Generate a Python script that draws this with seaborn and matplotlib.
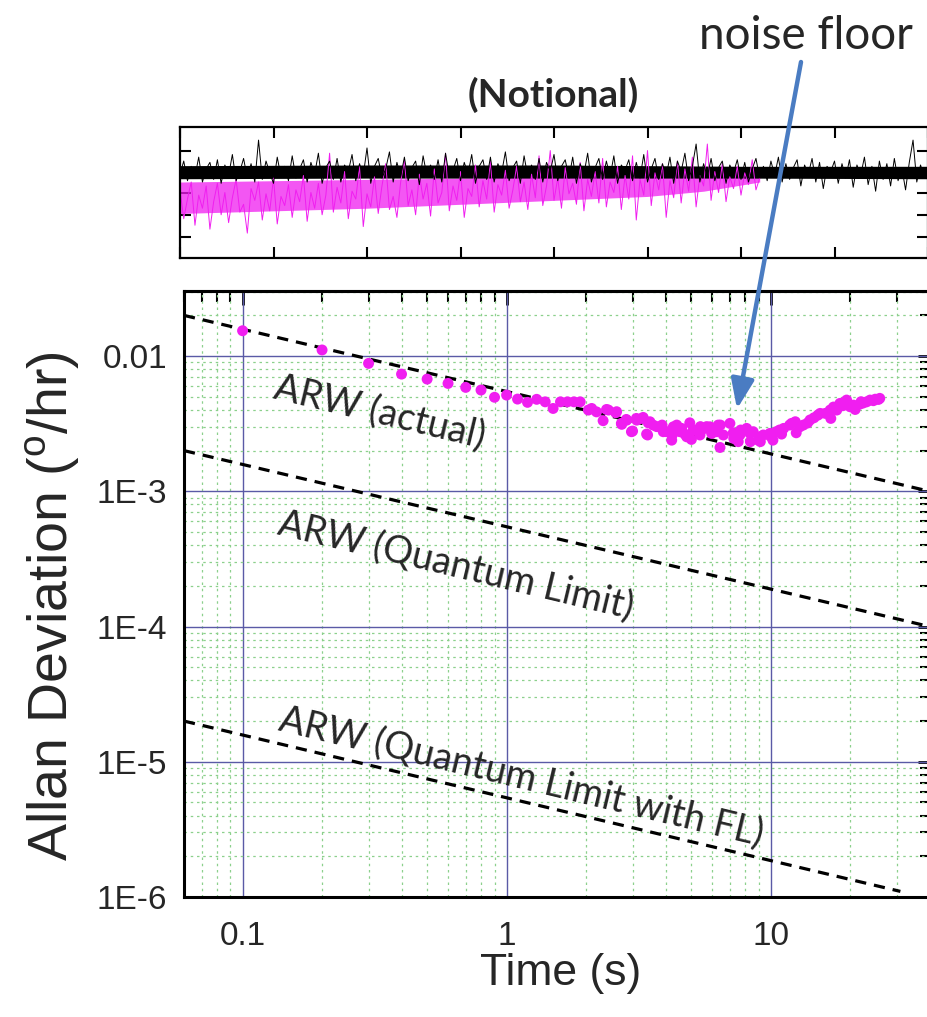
import numpy as np
import pandas as pd
import matplotlib
matplotlib.use("Agg")
import matplotlib.pyplot as plt
import seaborn as sns
from matplotlib.ticker import LogLocator, NullFormatter, FixedLocator, FixedFormatter

# ---------------- data ----------------
adev_tau = [0.1, 0.2, 0.3, 0.4, 0.5, 0.6, 0.7, 0.8, 0.9, 1.0, 1.1, 1.2, 1.3, 1.4, 1.5, 1.6, 1.7, 1.8, 1.9,
            2.04, 2.10, 2.19, 2.32, 2.39, 2.43, 2.59, 2.61, 2.72, 2.73,
            2.84, 2.85, 2.97, 3.00, 3.10, 3.11, 3.25, 3.29, 3.39, 3.42,
            3.44, 3.49, 3.59, 3.70, 3.86, 3.88, 3.92, 4.04, 4.22, 4.24,
            4.28, 4.41, 4.53, 4.60, 4.73, 4.81, 4.94, 5.01, 5.09, 5.24,
            5.40, 5.42, 5.64, 5.72, 5.89, 5.98, 6.24, 6.33, 6.43, 6.45,
            6.62, 7.01, 7.22, 7.25, 7.54, 7.65, 7.68, 7.70, 8.11, 8.35,
            8.38, 8.59, 8.98, 9.10, 9.14, 9.38, 9.93, 10.0, 10.2, 10.5,
            10.8, 11.0, 11.2, 11.8, 12.0, 12.4, 12.5, 12.9, 13.3, 13.8,
            14.1, 14.6, 15.1, 15.4, 16.1, 16.8, 16.9, 17.3, 17.8, 18.3,
            18.8, 19.1, 19.4, 20.0, 20.6, 20.9, 21.8, 22.0, 22.4, 23.1,
            23.8, 24.5, 24.9, 25.6, 25.9]
adev_val = [0.0154, 0.0111, 0.00883, 0.00736, 0.00676, 0.00628, 0.00587, 0.00561, 0.00496, 0.00515,
            0.00481, 0.00455, 0.00479, 0.00459, 0.0041, 0.00459, 0.00459, 0.00459, 0.00459,
            0.00399, 0.00410, 0.00387, 0.00333, 0.00403, 0.00399, 0.00381, 0.00388, 0.00318, 0.00313,
            0.00340, 0.00336, 0.00276, 0.00279, 0.00346, 0.00336, 0.00346, 0.00352, 0.00265, 0.00261,
            0.00321, 0.00327, 0.00309, 0.00301, 0.00300, 0.00309, 0.00276, 0.00276, 0.00239, 0.00261,
            0.00300, 0.00309, 0.00276, 0.00292, 0.00265, 0.00253, 0.00321, 0.00242, 0.00284, 0.00284,
            0.00261, 0.00301, 0.00292, 0.00301, 0.00300, 0.00268, 0.00276, 0.00309, 0.00211, 0.00309,
            0.00261, 0.00318, 0.00271, 0.00246, 0.00233, 0.00261, 0.00276, 0.00284, 0.00292, 0.00268,
            0.00233, 0.00276, 0.00239, 0.00253, 0.00233, 0.00261, 0.00268, 0.00255, 0.00239, 0.00276,
            0.00284, 0.00265, 0.00292, 0.00309, 0.00318, 0.00327, 0.00271, 0.00300, 0.00309, 0.00320,
            0.00337, 0.00350, 0.00366, 0.00377, 0.00377, 0.00399, 0.00346, 0.00420, 0.00399, 0.00447,
            0.00430, 0.00459, 0.00473, 0.00422, 0.00434, 0.00403, 0.00442, 0.00460, 0.00450, 0.00459,
            0.00473, 0.00468, 0.00480, 0.00478, 0.00487]

arw_tau = [0.06, 40]
arw_actual = [0.02, 0.001]
arw_quantum = [0.002, 0.0001]
arw_fl_tau = [0.06, 31]
arw_fl = [2e-5, 1.1e-6]

arw_labels = ["ARW (actual)", "ARW (Quantum Limit)", "ARW (Quantum Limit with FL)"]

xtick_vals = [0.1, 1, 10]
xtick_labels = ["0.1", "1", "10"]
ytick_vals = [1e-6, 1e-5, 1e-4, 1e-3, 1e-2]
ytick_labels = ["1E-6", "1E-5", "1E-4", "1E-3", "0.01"]

# notional raw traces (top panel), one sample every 0.04 (arb. time units)
trace_dt = 0.04
black_trace = [
    0.64, 0.74, 0.59, 0.70, 0.62, 0.77, 0.58, 0.68, 0.73, 0.60, 0.75, 0.57, 0.71, 0.63, 0.79, 0.59, 0.66, 0.76, 0.61, 0.72,
    0.58, 0.90, 0.60, 0.74, 0.65, 0.57, 0.77, 0.62, 0.70, 0.59, 0.78, 0.61, 0.68, 0.75, 0.58, 0.73, 0.64, 0.80, 0.57, 0.69,
    0.74, 0.60, 0.76, 0.58, 0.71, 0.66, 0.79, 0.59, 0.72, 0.63, 0.84, 0.57, 0.70, 0.76, 0.61, 0.68, 0.81, 0.58, 0.73, 0.62,
    0.77, 0.59, 0.69, 0.74, 0.56, 0.78, 0.63, 0.71, 0.60, 0.75, 0.58, 0.80, 0.62, 0.67, 0.76, 0.59, 0.73, 0.64, 0.79, 0.57,
    0.70, 0.75, 0.60, 0.77, 0.58, 0.72, 0.65, 0.81, 0.59, 0.69, 0.74, 0.57, 0.78, 0.62, 0.71, 0.60, 0.76, 0.58, 0.73, 0.66,
    0.79, 0.59, 0.70, 0.75, 0.61, 0.77, 0.57, 0.72, 0.64, 0.80, 0.58, 0.69, 0.76, 0.60, 0.74, 0.62, 0.78, 0.57, 0.71, 0.67,
    0.75, 0.59, 0.73, 0.61, 0.79, 0.58, 0.68, 0.76, 0.60, 0.72, 0.63, 0.77, 0.57, 0.74, 0.66, 0.80, 0.59, 0.70, 0.87, 0.58,
    0.72, 0.62, 0.76, 0.59, 0.69, 0.74, 0.57, 0.71, 0.65, 0.75, 0.60, 0.73, 0.58, 0.68, 0.76, 0.61, 0.70, 0.59, 0.74, 0.63,
    0.77, 0.58, 0.72, 0.60, 0.69, 0.75, 0.55, 0.71, 0.64, 0.76, 0.58, 0.73, 0.53, 0.70, 0.66, 0.74, 0.57, 0.72, 0.61, 0.75,
    0.54, 0.71, 0.63, 0.77, 0.56, 0.70, 0.51, 0.74, 0.60, 0.72, 0.55, 0.76, 0.59, 0.69, 0.52, 0.73, 0.90, 0.58, 0.71, 0.62,
    0.68]
magenta_trace = [
    0.52, 0.30, 0.45, 0.58, 0.25, 0.48, 0.38, 0.55, 0.22, 0.43, 0.57, 0.33, 0.50, 0.27, 0.46, 0.60, 0.35, 0.41, 0.19, 0.53,
    0.44, 0.58, 0.29, 0.49, 0.36, 0.61, 0.26, 0.47, 0.40, 0.56, 0.31, 0.52, 0.43, 0.63, 0.28, 0.50, 0.38, 0.57, 0.33, 0.48,
    0.80, 0.35, 0.54, 0.42, 0.66, 0.30, 0.51, 0.45, 0.70, 0.24, 0.49, 0.39, 0.62, 0.34, 0.55, 0.72, 0.37, 0.47, 0.31, 0.58,
    0.75, 0.40, 0.52, 0.33, 0.64, 0.45, 0.57, 0.32, 0.68, 0.42, 0.50, 0.80, 0.36, 0.55, 0.44, 0.66, 0.31, 0.53, 0.47, 0.71,
    0.39, 0.59, 0.45, 0.74, 0.35, 0.56, 0.48, 0.67, 0.38, 0.52, 0.70, 0.43, 0.58, 0.37, 0.64, 0.46, 0.78, 0.40, 0.55, 0.82,
    0.44, 0.61, 0.38, 0.69, 0.49, 0.57, 0.41, 0.73, 0.36, 0.60, 0.47, 0.66, 0.42, 0.76, 0.39, 0.58, 0.50, 0.70, 0.37, 0.63,
    0.45, 0.78, 0.29, 0.60, 0.48, 0.82, 0.40, 0.65, 0.52, 0.72, 0.31, 0.59, 0.46, 0.74, 0.42, 0.68, 0.51, 0.77, 0.39, 0.63,
    0.55, 0.87, 0.44, 0.66, 0.50, 0.72, 0.43, 0.62, 0.53, 0.70, 0.48, 0.65, 0.56, 0.75, 0.52, 0.61]
black_core_t = [0, 2, 4, 6, 8]
black_core_lo = [0.605, 0.61, 0.61, 0.61, 0.605]
black_core_hi = [0.705, 0.71, 0.71, 0.70, 0.70]
magenta_core_t = [0, 1, 2, 3, 4, 5, 5.6, 6.2]
magenta_core_lo = [0.34, 0.36, 0.38, 0.41, 0.44, 0.47, 0.51, 0.58]
magenta_core_hi = [0.58, 0.59, 0.60, 0.61, 0.62, 0.64, 0.65, 0.63]

# ---------------- style ----------------
sns.set_theme(style="white")
plt.rcParams["font.family"] = ["Liberation Sans", "DejaVu Sans"]
plt.rcParams["mathtext.fontset"] = "custom"
plt.rcParams["mathtext.rm"] = "Liberation Sans"

MAG = "#f01ef0"
fig = plt.figure(figsize=(9.27, 10.17), dpi=100)
W, H = 927.0, 1017.0

# ---- top panel ----
ax_top = fig.add_axes([180 / W, 1 - 258 / H, 748 / W, 131 / H])
ax_top.fill_between(magenta_core_t, magenta_core_lo, magenta_core_hi, color=MAG, alpha=0.75, lw=0)
mag_df = pd.DataFrame({"t": np.arange(len(magenta_trace)) * trace_dt, "v": magenta_trace})
sns.lineplot(data=mag_df, x="t", y="v", color=MAG, lw=0.7, ax=ax_top, estimator=None, sort=False)
ax_top.fill_between(black_core_t, black_core_lo, black_core_hi, color="black", lw=0)
blk_df = pd.DataFrame({"t": np.arange(len(black_trace)) * trace_dt, "v": black_trace})
sns.lineplot(data=blk_df, x="t", y="v", color="black", lw=0.7, ax=ax_top, estimator=None, sort=False)
ax_top.set_xlim(0, 8)
ax_top.set_ylim(0, 1)
ax_top.set_xticks(range(0, 9))
ax_top.set_yticks([0.16, 0.33, 0.50, 0.82])
ax_top.tick_params(which="both", direction="in", top=True, bottom=True, left=True, right=True,
                   labelbottom=False, labelleft=False, length=8, width=1.5, color="black")
ax_top.set_xlabel("")
ax_top.set_ylabel("")
for s in ax_top.spines.values():
    s.set_color("black")
    s.set_linewidth(1.6)

# ---- main panel ----
ax = fig.add_axes([184 / W, 1 - 897 / H, 745.6 / W, 606 / H])
ax.set_xscale("log")
ax.set_yscale("log")
ax.set_xlim(0.06, 40)
ax.set_ylim(1e-6, 0.0303)
ax.set_axisbelow(True)

ax.grid(which="major", color="#5a5aa6", lw=1.0)
ax.grid(which="minor", color="#8cd08c", lw=0.9, ls=(0, (2, 3)))

line_df = pd.DataFrame({"tau": arw_tau + arw_tau + arw_fl_tau,
                        "val": arw_actual + arw_quantum + arw_fl,
                        "kind": ["a", "a", "q", "q", "f", "f"]})
for k in ["a", "q", "f"]:
    sub = line_df[line_df["kind"] == k]
    sns.lineplot(data=sub, x="tau", y="val", color="black", lw=2.3, ax=ax,
                 estimator=None, sort=False, zorder=4).lines[-1].set_dashes((3.5, 2.5))

sns.scatterplot(x=adev_tau, y=adev_val, color=MAG, s=62, edgecolor="none", ax=ax, zorder=5)

ax.xaxis.set_major_locator(FixedLocator(xtick_vals))
ax.xaxis.set_major_formatter(FixedFormatter(xtick_labels))
ax.xaxis.set_minor_locator(LogLocator(base=10, subs=np.arange(2, 10)))
ax.xaxis.set_minor_formatter(NullFormatter())
ax.yaxis.set_major_locator(FixedLocator(ytick_vals))
ax.yaxis.set_major_formatter(FixedFormatter(ytick_labels))
ax.yaxis.set_minor_locator(LogLocator(base=10, subs=np.arange(2, 10), numticks=20))
ax.yaxis.set_minor_formatter(NullFormatter())

ax.tick_params(axis="x", which="major", direction="out", length=10, width=2, pad=7,
               labelsize=24, color="black")
ax.tick_params(axis="x", which="minor", direction="out", length=7, width=1.5, color="black")
ax.tick_params(axis="y", which="major", direction="out", length=9, width=2, pad=3,
               labelsize=24, color="black")
ax.tick_params(axis="y", which="minor", direction="in", length=8, width=1.5, color="black")
for s in ax.spines.values():
    s.set_color("black")
    s.set_linewidth(2.2)

sec_x = ax.secondary_xaxis("top")
sec_x.xaxis.set_major_locator(FixedLocator(xtick_vals))
sec_x.xaxis.set_minor_locator(LogLocator(base=10, subs=np.arange(2, 10)))
sec_x.xaxis.set_major_formatter(NullFormatter())
sec_x.xaxis.set_minor_formatter(NullFormatter())
sec_x.tick_params(which="major", direction="in", length=10, width=2, color="black")
sec_x.tick_params(which="minor", direction="in", length=8, width=1.5, color="black")
sec_x.spines["top"].set_linewidth(2.2)

sec_y = ax.secondary_yaxis("right")
sec_y.yaxis.set_major_locator(FixedLocator(ytick_vals))
sec_y.yaxis.set_minor_locator(LogLocator(base=10, subs=np.arange(2, 10), numticks=20))
sec_y.yaxis.set_major_formatter(NullFormatter())
sec_y.yaxis.set_minor_formatter(NullFormatter())
sec_y.tick_params(which="major", direction="in", length=9, width=2, color="black")
sec_y.tick_params(which="minor", direction="in", length=7, width=1.5, color="black")

ax.set_xlabel("Time (s)", fontsize=32)
ax.xaxis.set_label_coords(0.505, -0.093)
ax.set_ylabel(r"Allan Deviation ($^{\rm o}$/hr)", fontsize=40)
ax.yaxis.set_label_coords(-0.138, 0.48)

lab_font = ["Lato", "DejaVu Sans"]
ax.text(0.263, 0.800, arw_labels[0], transform=ax.transAxes, rotation=-13.5, rotation_mode="anchor",
        ha="center", va="center", fontsize=27, family=lab_font, zorder=6)
ax.text(0.365, 0.548, arw_labels[1], transform=ax.transAxes, rotation=-13.5, rotation_mode="anchor",
        ha="center", va="center", fontsize=27, family=lab_font, zorder=6)
ax.text(0.453, 0.198, arw_labels[2], transform=ax.transAxes, rotation=-13.5, rotation_mode="anchor",
        ha="center", va="center", fontsize=27, family=lab_font, zorder=6)

fig.text(553 / W, 1 - 95 / H, "(Notional)", ha="center", va="center", fontsize=28,
         fontweight="bold", family=lab_font)
fig.text(806 / W, 1 - 36 / H, "noise floor", ha="center", va="center", fontsize=33, family=lab_font)

ax.annotate("", xy=(737, H - 409), xycoords="figure pixels", xytext=(801, H - 62),
            textcoords="figure pixels",
            arrowprops=dict(arrowstyle="-|>,head_length=0.9,head_width=0.35", color="#4a7cc2",
                            lw=3.2, shrinkA=0, shrinkB=0, mutation_scale=20),
            annotation_clip=False, zorder=10)

fig.savefig("out.png", dpi=100)
